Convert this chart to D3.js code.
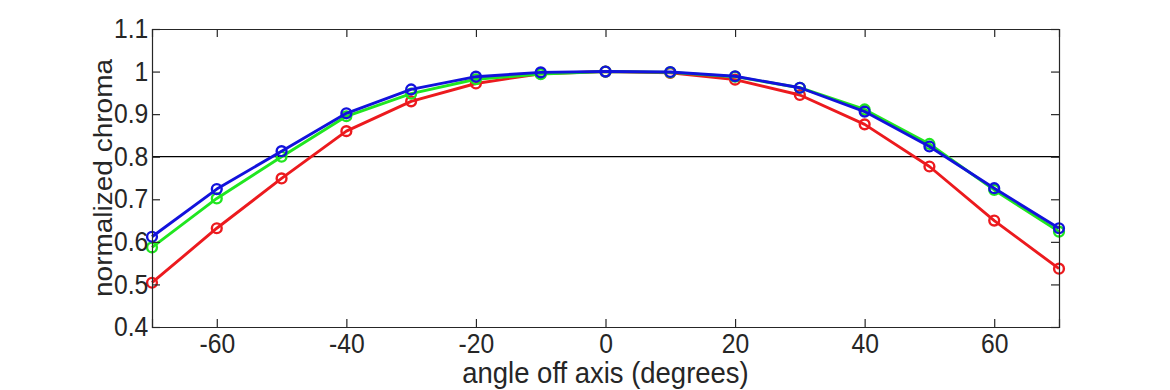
<!DOCTYPE html>
<html><head><meta charset="utf-8">
<script src="https://cdn.jsdelivr.net/npm/d3@7"></script>
<style>body{margin:0;background:#fff;} text{font-family:"Liberation Sans",Arial,sans-serif;fill:#262626;}</style>
</head><body><svg id="c" width="1170" height="390"></svg>
<script>
const angles = [-70,-60,-50,-40,-30,-20,-10,0,10,20,30,40,50,60,70];
const redVals   = [0.504,0.632,0.749,0.860,0.930,0.972,0.995,1.000,0.997,0.981,0.945,0.876,0.777,0.650,0.537];
const greenVals = [0.587,0.702,0.800,0.895,0.948,0.982,0.994,1.000,0.998,0.988,0.962,0.911,0.830,0.722,0.624];
const blueVals  = [0.612,0.724,0.813,0.902,0.958,0.988,0.998,1.000,0.999,0.989,0.962,0.906,0.824,0.726,0.632];
const xTicks = [-60,-40,-20,0,20,40,60];
const yTicks = [0.4,0.5,0.6,0.7,0.8,0.9,1,1.1];
const threshold = 0.8;

const svg = d3.select("#c");
const L=152,R=1059,T=29,B=327;
const SX=0.915;
const x = d3.scaleLinear().domain([-70,70]).range([L,R]);
const y = d3.scaleLinear().domain([0.4,1.1]).range([B,T]);

const g = svg.append("g");
g.append("line").attr("x1",L).attr("x2",R).attr("y1",y(threshold)).attr("y2",y(threshold))
 .attr("stroke","#000").attr("stroke-width",1.3);

const series = [
  {vals:redVals,color:"#ec1a1e"},
  {vals:greenVals,color:"#20e620"},
  {vals:blueVals,color:"#1212dc"}
];
const line = d3.line().x((d,i)=>x(angles[i])).y(d=>y(d));
series.forEach(s=>{
  g.append("path").datum(s.vals).attr("d",line).attr("fill","none")
   .attr("stroke",s.color).attr("stroke-width",2.9).attr("stroke-linejoin","round");
  g.selectAll(null).data(s.vals).enter().append("circle")
   .attr("cx",(d,i)=>x(angles[i])).attr("cy",d=>y(d)).attr("r",4.9)
   .attr("fill","none").attr("stroke",s.color).attr("stroke-width",2.4);
});

const axc = "#262626";
const axB = svg.append("g").attr("transform",`translate(0,${B})`)
  .call(d3.axisBottom(x).tickValues(xTicks).tickSize(-8).tickPadding(7).tickFormat(d=>String(d)));
const axT = svg.append("g").attr("transform",`translate(0,${T})`)
  .call(d3.axisTop(x).tickValues(xTicks).tickSize(-8).tickFormat(""));
const axL = svg.append("g").attr("transform",`translate(${L},0)`)
  .call(d3.axisLeft(y).tickValues(yTicks).tickSize(-8).tickPadding(4).tickFormat(d=>d3.format("~g")(d)));
const axR = svg.append("g").attr("transform",`translate(${R},0)`)
  .call(d3.axisRight(y).tickValues(yTicks).tickSize(-8).tickFormat(""));
[axB,axT,axL,axR].forEach(a=>{
  a.select(".domain").attr("stroke",axc).attr("stroke-width",1.2);
  a.selectAll(".tick line").attr("stroke",axc).attr("stroke-width",1.2);
  a.selectAll("text").style("font-size","27px").attr("fill",axc)
   .style("font-family","'Liberation Sans',Arial,sans-serif")
   .attr("transform",`scale(${SX},1)`);
});

svg.append("text").attr("transform",`translate(${(L+R)/2},383) scale(${SX},1)`).attr("text-anchor","middle")
  .style("font-size","30px").text("angle off axis (degrees)");
svg.append("text").attr("transform",`translate(112,${(T+B)/2}) rotate(-90) scale(1,${SX})`).attr("text-anchor","middle")
  .style("font-size","28px").text("normalized chroma");
</script></body></html>
